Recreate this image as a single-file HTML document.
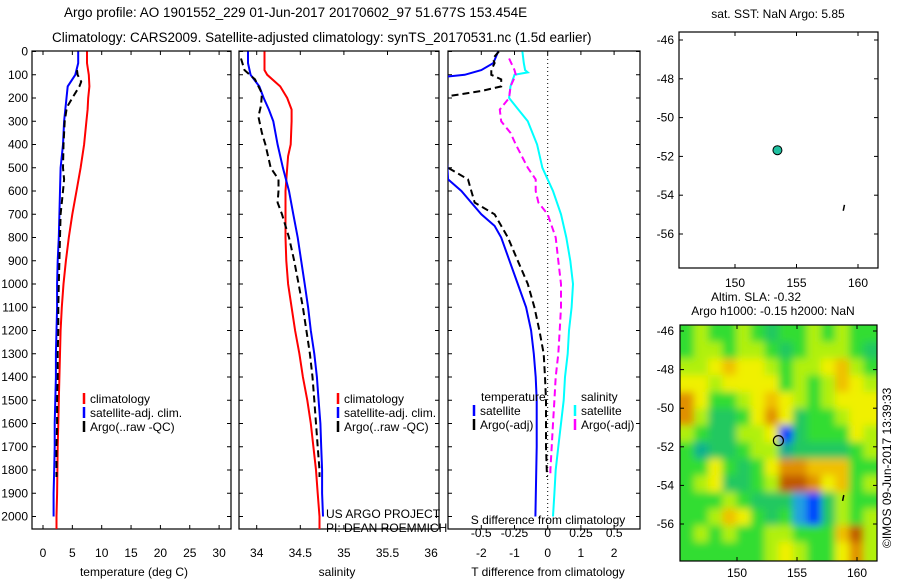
<!DOCTYPE html>
<html><head><meta charset="utf-8"><style>
body{margin:0;background:#fff;}
svg{display:block;font-family:"Liberation Sans",sans-serif;}
text{fill:#000;}
</style></head><body>
<svg id="chart" width="900" height="580" viewBox="0 0 900 580" xmlns="http://www.w3.org/2000/svg">
<defs>
<filter id="blur" x="0" y="0" width="1" height="1"><feGaussianBlur stdDeviation="4"/></filter>
<clipPath id="c1"><rect x="32" y="51" width="199" height="478"/></clipPath>
<clipPath id="c2"><rect x="239" y="51" width="200" height="478"/></clipPath>
<clipPath id="c3"><rect x="448" y="51" width="192" height="478"/></clipPath>
<clipPath id="c5"><rect x="680" y="325" width="197" height="236"/></clipPath>
</defs>
<text x="64" y="17" font-size="13.5">Argo profile: AO 1901552_229 01-Jun-2017 20170602_97 51.677S 153.454E</text>
<text x="52" y="42" font-size="13.5">Climatology: CARS2009. Satellite-adjusted climatology: synTS_20170531.nc (1.5d earlier)</text>
<g id="g"></g>
</svg>
<script>
const NS="http://www.w3.org/2000/svg";
const G=document.getElementById('g');
function el(t,a,p){const e=document.createElementNS(NS,t);for(const k in a)e.setAttribute(k,a[k]);(p||G).appendChild(e);return e;}
function txt(s,x,y,a,p){const e=el('text',Object.assign({'font-size':12},a),p);e.textContent=s;return e;}

// ---------- data ----------
const depthTicks=[0,100,200,300,400,500,600,700,800,900,1000,1100,1200,1300,1400,1500,1600,1700,1800,1900,2000];
const tempTicks=[0,5,10,15,20,25,30];
const salTicks=[34,34.5,35,35.5,36];
const dTTicks=[-2,-1,0,1,2];
const dSTicks=[-0.5,-0.25,0,0.25,0.5];
const dSTickLabels=['-0.5','-0.25','0','0.25','0.5'];

const tClimDepth=[0,50,100,150,200,250,300,400,500,600,700,800,900,1000,1100,1200,1300,1400,1500,1600,1700,1800,1900,2000,2060];
const tClim=[7.5,7.5,7.8,7.9,7.7,7.6,7.4,7.0,6.4,5.7,5.0,4.4,3.9,3.5,3.2,3.0,2.9,2.8,2.7,2.6,2.5,2.45,2.4,2.3,2.3];
const tSatDepth=[0,50,100,150,200,250,300,400,500,600,700,800,900,1000,1100,1200,1300,1400,1500,1600,1700,1800,1900,2000];
const tSat=[6.0,6.0,5.5,4.2,4.0,3.8,3.6,3.4,3.0,2.9,2.8,2.7,2.5,2.4,2.4,2.3,2.2,2.2,2.1,2.0,2.0,1.9,1.8,1.8];
const tArgoDepth=[80,100,130,150,200,230,250,300,400,500,550,600,700,800,900,1000,1100,1200,1300,1400,1500,1600,1700,1800,1830];
const tArgo=[5.8,5.9,6.5,6.2,5.0,4.3,4.0,3.7,3.5,3.4,3.6,3.4,3.0,2.9,2.8,2.7,2.6,2.6,2.5,2.5,2.4,2.4,2.3,2.3,2.3];

const sClimDepth=[0,80,100,150,200,250,300,400,450,500,600,700,800,900,1000,1100,1200,1300,1400,1500,1600,1700,1800,1900,2000,2060];
const sClim=[34.09,34.09,34.12,34.27,34.35,34.40,34.40,34.39,34.36,34.35,34.33,34.33,34.33,34.34,34.36,34.40,34.44,34.49,34.53,34.58,34.62,34.65,34.68,34.70,34.72,34.72];
const sSatDepth=tSatDepth;
const sSat=[33.9,33.9,33.93,34.03,34.08,34.14,34.19,34.24,34.30,34.37,34.42,34.47,34.51,34.55,34.59,34.62,34.66,34.69,34.71,34.73,34.74,34.75,34.75,34.76];
const sArgoDepth=[30,80,120,180,230,280,350,400,500,550,600,650,700,800,900,1000,1100,1200,1300,1400,1500,1600,1700,1800,1830];
const sArgo=[33.82,33.86,33.98,34.06,34.05,34.02,34.06,34.10,34.16,34.25,34.25,34.24,34.29,34.37,34.43,34.48,34.53,34.57,34.61,34.64,34.66,34.68,34.70,34.72,34.72];

const dTSatDepth=[0,50,80,100,110,550,600,650,700,750,800,900,1000,1100,1200,1300,1400,1500,1700,2000];
const dTSat=[-1.49,-1.64,-2.0,-2.5,-3.2,-3.0,-2.6,-2.3,-2.0,-1.6,-1.4,-1.15,-0.9,-0.65,-0.5,-0.42,-0.36,-0.33,-0.33,-0.37];
const dTArgoDepth=[0,30,50,80,100,120,150,170,190,200,490,500,550,600,650,700,800,900,1000,1100,1200,1300,1400,1500,1700,1830];
const dTArgo=[-1.47,-1.65,-1.6,-1.7,-1.7,-1.4,-1.4,-2.0,-2.9,-3.3,-3.3,-3.0,-2.4,-2.3,-2.2,-1.6,-1.2,-0.9,-0.6,-0.4,-0.25,-0.12,-0.08,-0.05,-0.05,-0.02];
const dSSatDepth=[0,50,80,90,100,150,200,250,300,400,500,550,600,700,800,900,1000,1100,1200,1300,1400,1500,1600,1700,1800,1900,2000];
const dSSat=[-0.19,-0.18,-0.17,-0.15,-0.25,-0.28,-0.29,-0.22,-0.15,-0.08,-0.04,0,0.04,0.1,0.14,0.17,0.19,0.18,0.16,0.15,0.13,0.12,0.1,0.08,0.06,0.05,0.04];
const dSArgoDepth=[30,80,100,150,200,250,300,350,400,500,550,600,650,700,750,800,900,1000,1100,1200,1300,1400,1500,1600,1700,1800,1830];
const dSArgo=[-0.29,-0.25,-0.24,-0.28,-0.29,-0.36,-0.35,-0.28,-0.24,-0.15,-0.09,-0.09,-0.07,0,0.03,0.06,0.08,0.1,0.1,0.09,0.08,0.06,0.05,0.04,0.03,0.02,0.02];

const floatLon=[153.45];
const floatLat=[-51.68];
const trackLon=[158.8,158.9];
const trackLat=[-54.8,-54.5];
const latTicks=[-46,-48,-50,-52,-54,-56];
const lonTicks=[150,155,160];

const slaLon0=145.25, slaLon1=161.7, slaLat0=-45.7, slaLat1=-57.8;
const sla=[
[0,0.5,0,0,0.5,0,-0.3,0,0,0.5,0,0.5,0,0],
[0,0.5,0.5,0,0.5,0.5,0,-0.3,0,0.5,0.5,0.5,0,-0.3],
[0.5,0.5,1,1.5,1,1,0.5,0,0.5,0.5,1,1.5,0.5,0],
[1,1,0.5,1,1,1,1,0,0.5,0,0.5,1.5,1,0.5],
[2,1,0,0,0.5,1,1.5,1,0.5,0,0.5,1,1,1],
[2,0.5,-0.5,-0.5,0,1,2,1,-0.5,0,0,0.5,1,1],
[0.5,0,-0.5,-0.5,0.5,0.5,1,-2.5,-0.5,0,0,0,1,0.5],
[0,-1,-0.5,-0.5,0,0.5,0.5,-1,-0.5,-0.5,-0.5,-0.5,0,0.5],
[0,0,1,0,-0.5,0,1,2,2,1.5,1.5,1.5,0,0],
[0,0.5,1,-0.5,-0.5,0,0.5,2.5,2.5,2,1,1.5,0,0.5],
[0,0,0,0.5,0,-0.5,-0.5,-0.5,-1.5,-2.5,-0.5,0.5,0,0],
[0,0,0.5,1.5,1,0,-0.5,0,-1.5,-2.5,-0.5,0.5,0,0.5],
[0,0.5,0,0.5,0,0,0.5,0.5,0,0,0,1.5,2.5,0.5],
[0,0,0,0,0,0,0.5,1,0.5,0,0,1,2,0.5]];

// ---------- scales ----------
const yD=d=>51.5+d*0.2325;
const xT=v=>43+v*5.87;
const xS=v=>256.7+(v-34)*87.2;
const xDT=v=>547.7+v*33.2;
const xDS=v=>547.7+v*133;
const PT=51, PB=529;

function frame(x,y,w,h,name){el('rect',{x,y,width:w,height:h,fill:'none',stroke:'#000','stroke-width':1.2,});}
function line(xs,ds,xf,color,w,dash,clip,name){
  const pts=xs.map((v,i)=>xf(v).toFixed(1)+','+yD(ds[i]).toFixed(1)).join(' ');
  const a={points:pts,fill:'none',stroke:color,'stroke-width':w};
  if(dash)a['stroke-dasharray']=dash;
  a['clip-path']='url(#'+clip+')';
  const e=el('polyline',a);
  
  
}
function depthAxis(x0,x1,labels){
  depthTicks.forEach(d=>{const y=yD(d);
    el('line',{x1:x0,x2:x0+4,y1:y,y2:y,stroke:'#000'});el('line',{x1:x1-4,x2:x1,y1:y,y2:y,stroke:'#000'});
    if(labels){const t=txt(String(d),0,0,{x:28,y:y+4,'text-anchor':'end'});}
  });
}
function xAxis(ticks,labs,xf,y0,y1,ly){
  ticks.forEach((v,i)=>{const x=xf(v);
    el('line',{x1:x,x2:x,y1:y1-4,y2:y1,stroke:'#000'});el('line',{x1:x,x2:x,y1:y0,y2:y0+4,stroke:'#000'});
    const t=txt(labs[i],0,0,{x:x,y:ly,'text-anchor':'middle'});});
}
function legend(x,y,items){
  items.forEach((it,i)=>{const yy=y+i*14;
    el('line',{x1:x,x2:x,y1:yy-10,y2:yy+1,stroke:it[1],'stroke-width':2.5});
    const t=txt(it[0],0,0,{x:x+6,y:yy});});
}

// panel 1
frame(32,PT,199,PB-PT,'temperature-panel');
depthAxis(32,231,true);
xAxis(tempTicks,tempTicks.map(String),xT,PT,PB,557);
txt('temperature (deg C)',0,0,{x:134,y:576,'text-anchor':'middle',});
line(tClim,tClimDepth,xT,'#ff0000',2,null,'c1','temp-climatology-line');
line(tSat,tSatDepth,xT,'#0000ff',2,null,'c1','temp-satellite-line');
line(tArgo,tArgoDepth,xT,'#000',2,'7,4','c1','temp-argo-line');
legend(84,403,[['climatology','#ff0000'],['satellite-adj. clim.','#0000ff'],['Argo(..raw -QC)','#000']]);

// panel 2
frame(239,PT,200,PB-PT,'salinity-panel');
depthAxis(239,439,false);
xAxis(salTicks,salTicks.map(String),xS,PT,PB,557);
txt('salinity',0,0,{x:337,y:576,'text-anchor':'middle',});
line(sClim,sClimDepth,xS,'#ff0000',2,null,'c2','sal-climatology-line');
line(sSat,sSatDepth,xS,'#0000ff',2,null,'c2','sal-satellite-line');
line(sArgo,sArgoDepth,xS,'#000',2,'7,4','c2','sal-argo-line');
legend(338,403,[['climatology','#ff0000'],['satellite-adj. clim.','#0000ff'],['Argo(..raw -QC)','#000']]);
txt('US ARGO PROJECT',0,0,{x:326,y:518,});
txt('PI: DEAN ROEMMICH',0,0,{x:326,y:532,});

// panel 3
frame(448,PT,192,PB-PT,'difference-panel');
depthAxis(448,640,false);
xAxis(dTTicks,dTTicks.map(String),xDT,PT,PB,557);
dSTicks.forEach((v,i)=>{const t=txt(dSTickLabels[i],0,0,{x:xDS(v),y:537,'text-anchor':'middle'});});
txt('S difference from climatology',0,0,{x:548,y:524,'text-anchor':'middle',});
txt('T difference from climatology',0,0,{x:548,y:576,'text-anchor':'middle',});
el('line',{x1:xDT(0),x2:xDT(0),y1:PT,y2:PB,stroke:'#000','stroke-dasharray':'1,3',});
line(dTSat,dTSatDepth,xDT,'#0000ff',2,null,'c3','t-diff-satellite-line');
line(dTArgo,dTArgoDepth,xDT,'#000',2,'7,4','c3','t-diff-argo-line');
line(dSSat,dSSatDepth,xDS,'#00ffff',2,null,'c3','s-diff-satellite-line');
line(dSArgo,dSArgoDepth,xDS,'#ff00ff',2,'7,4','c3','s-diff-argo-line');
txt('temperature',0,0,{x:481,y:401,});
legend(474,415,[['satellite','#0000ff'],['Argo(-adj)','#000']]);
txt('salinity',0,0,{x:581,y:401,});
legend(575,415,[['satellite','#00ffff'],['Argo(-adj)','#ff00ff']]);

// panel 4 map
const m4x=lon=>735+(lon-150)*12.3, m4y=lat=>40+(-46-lat)*19.4;
frame(679,32,199,236,'sst-map-panel');
txt('sat. SST: NaN Argo: 5.85',0,0,{x:778,y:18,'text-anchor':'middle',});
latTicks.forEach(v=>{const y=m4y(v);el('line',{x1:679,x2:683,y1:y,y2:y,stroke:'#000'});el('line',{x1:874,x2:878,y1:y,y2:y,stroke:'#000'});
  const t=txt(String(v),0,0,{x:674,y:y+4,'text-anchor':'end'});});
lonTicks.forEach(v=>{const x=m4x(v);el('line',{x1:x,x2:x,y1:32,y2:36,stroke:'#000'});el('line',{x1:x,x2:x,y1:264,y2:268,stroke:'#000'});
  const t=txt(String(v),0,0,{x:x,y:287,'text-anchor':'middle'});});
floatLon.forEach((lo,i)=>{const c=el('circle',{cx:m4x(lo),cy:m4y(floatLat[i]),r:4.5,fill:'#20c0a0',stroke:'#000'});});
el('polyline',{points:trackLon.map((lo,i)=>m4x(lo)+','+m4y(trackLat[i])).join(' '),stroke:'#000',fill:'none','stroke-width':1.5,});

// panel 5 SLA map
const m5x=lon=>737+(lon-150)*12, m5y=lat=>331+(-46-lat)*19.3;
txt('Altim. SLA: -0.32',0,0,{x:756,y:301,'text-anchor':'middle',});
txt('Argo h1000: -0.15 h2000: NaN',0,0,{x:773,y:315,'text-anchor':'middle',});
const stops=[[-2.5,'#0040ff'],[-2,'#1070ff'],[-1.5,'#20a0e0'],[-1,'#10b090'],[-0.5,'#20c860'],[0,'#30dd30'],[0.5,'#b0f010'],[1,'#f0f000'],[1.5,'#f0c000'],[2,'#e09000'],[2.5,'#c05800']];
function col(v){let best=stops[0];stops.forEach(s=>{if(Math.abs(s[0]-v)<Math.abs(best[0]-v))best=s;});return best[1];}
const hg=el('g',{'clip-path':'url(#c5)'});
const hgi=el('g',{filter:'url(#blur)'},hg);
el('rect',{x:670,y:315,width:220,height:260,fill:'#30dd30'},hgi);
const nr=sla.length,nc=sla[0].length;
const cw=(m5x(slaLon1)-m5x(slaLon0))/nc, ch=(m5y(slaLat1)-m5y(slaLat0))/nr;
sla.forEach((row,r)=>row.forEach((v,c)=>{
  const x0=m5x(slaLon0)+c*cw, y0=m5y(slaLat0)+r*ch;
  const e=el('rect',{x:x0-(c===0?10:0),y:y0-(r===0?10:0),width:cw+0.5+(c===0||c===nc-1?10:0),height:ch+0.5+(r===0||r===nr-1?10:0),fill:col(v)},hgi);
  
  
}));
frame(680,325,197,236,'sla-map-panel');
latTicks.forEach(v=>{const y=m5y(v);el('line',{x1:680,x2:684,y1:y,y2:y,stroke:'#000'});el('line',{x1:873,x2:877,y1:y,y2:y,stroke:'#000'});
  const t=txt(String(v),0,0,{x:674,y:y+4,'text-anchor':'end'});});
lonTicks.forEach(v=>{const x=m5x(v);el('line',{x1:x,x2:x,y1:325,y2:329,stroke:'#000'});el('line',{x1:x,x2:x,y1:557,y2:561,stroke:'#000'});
  const t=txt(String(v),0,0,{x:x,y:577,'text-anchor':'middle'});});
floatLon.forEach((lo,i)=>{const c=el('circle',{cx:m5x(lo),cy:m5y(floatLat[i]),r:5,fill:'none',stroke:'#000','stroke-width':1.2});});
el('polyline',{points:trackLon.map((lo,i)=>m5x(lo)+','+m5y(trackLat[i])).join(' '),stroke:'#000',fill:'none','stroke-width':1.5,});
txt('©IMOS 09-Jun-2017 13:39:33',0,0,{x:0,y:0,transform:'translate(891,548) rotate(-90)',});
</script>
</body></html>
